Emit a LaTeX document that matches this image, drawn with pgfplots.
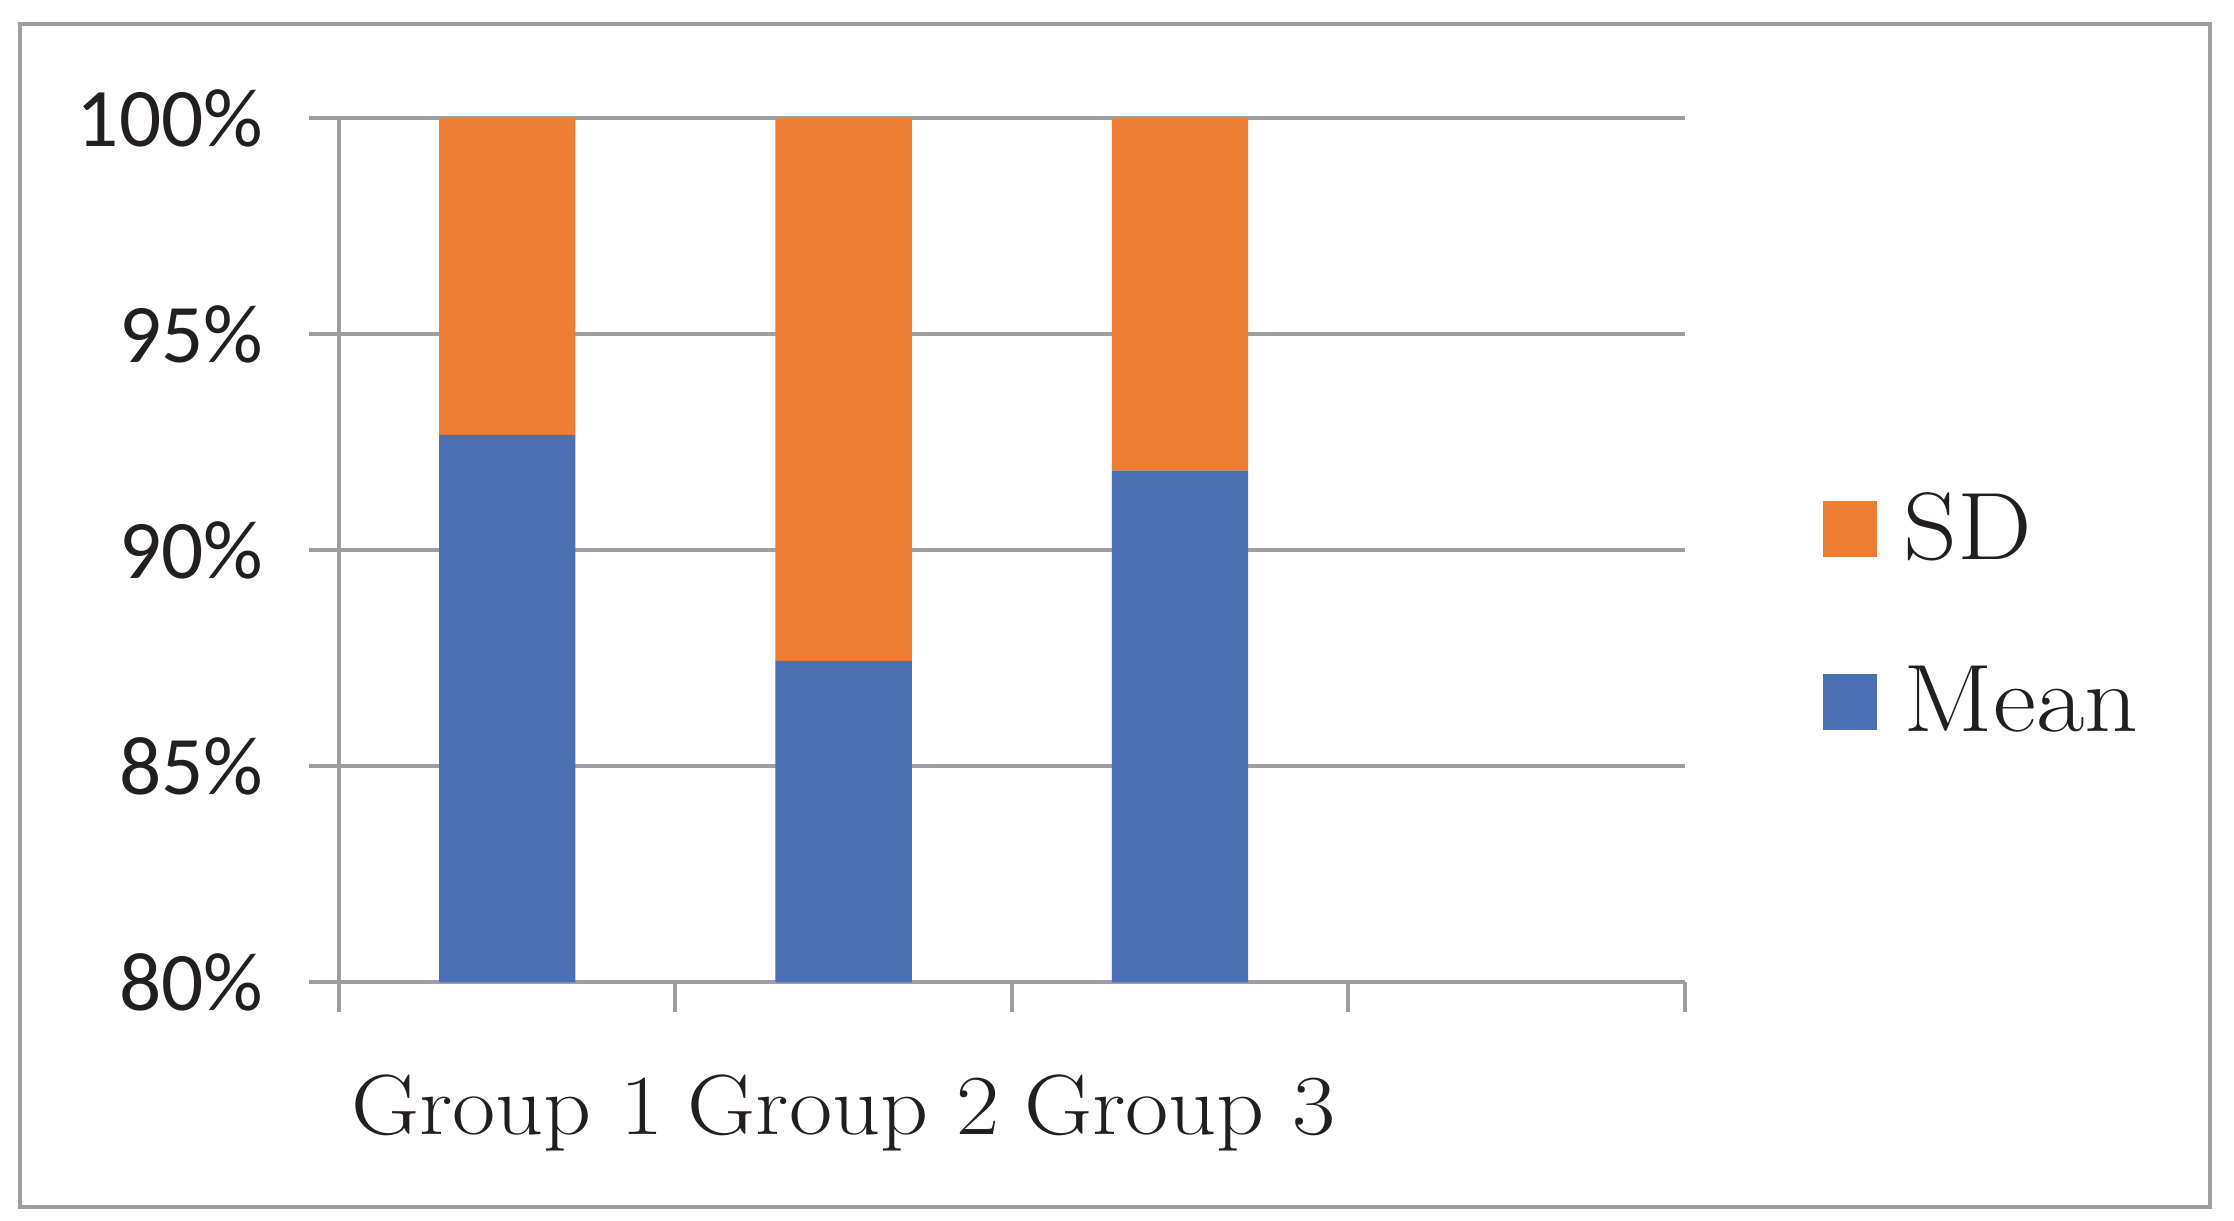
\documentclass[border=0pt]{standalone}
\usepackage{pgfplots}
\pgfplotsset{compat=1.18}
\usepackage{fontspec}
\newfontfamily\carlito{Carlito}
\newfontfamily\serifw{Latin Modern Roman}[FakeStretch=1.1]
\definecolor{sdorange}{RGB}{237,125,49}
\definecolor{meanblue}{RGB}{74,113,182}
\definecolor{axgray}{RGB}{158,158,162}
\definecolor{txt}{RGB}{35,31,32}
\begin{document}
\begin{tikzpicture}[x=1pt,y=1pt]
\path[use as bounding box] (0,0) rectangle (536.2,293.0);
\draw[axgray, line width=1pt] (4.8,3.4) rectangle (530.4,287.3);
\begin{axis}[
  at={(81.36pt,57.24pt)}, anchor=south west,
  width=323pt, height=207.4pt, scale only axis,
  ybar stacked, bar width=0.405,
  xmin=-0.5, xmax=3.5, ymin=80, ymax=100,
  axis x line*=bottom, axis y line*=left,
  axis line style={axgray, line width=1pt},
  every tick/.style={axgray, line width=1pt},
  tick align=outside, major tick length=7.2pt,
  xtick={-0.5,0.5,1.5,2.5,3.5}, xticklabels={},
  extra x ticks={0,1,2},
  extra x tick labels={Group 1,Group 2,Group 3},
  extra x tick style={major tick length=0pt, grid=none,
    tick label style={anchor=base, yshift=-36.5pt, inner sep=0pt}},
  ytick={80,85,90,95,100},
  yticklabels={80\%,85\%,90\%,95\%,100\%},
  ymajorgrids, grid style={axgray, line width=1pt},
  x tick label style={font=\serifw\fontsize{20.5}{24}\selectfont, text=txt},
  y tick label style={font=\carlito\fontsize{20}{24}\selectfont, text=txt, anchor=east, inner sep=0pt, xshift=-10.8pt},
  legend style={draw=none, fill=none, at={(1.0925,0.425)}, anchor=west,
    font=\serifw\fontsize{23}{27}\selectfont, text=txt, row sep=24pt,
    nodes={inner sep=0pt}},
  legend cell align=left,
  legend image code/.code={\fill[#1] (0pt,-6.7pt) rectangle (13pt,6.7pt); \path (19.5pt,0pt);},
  reverse legend,
]
\addplot[fill=meanblue, draw=none] coordinates {(0,92.67) (1,87.44) (2,91.84)};
\addlegendentry{Mean}
\addplot[fill=sdorange, draw=none] coordinates {(0,7.33) (1,12.56) (2,8.16)};
\addlegendentry{SD}
\end{axis}
\end{tikzpicture}
\end{document}
